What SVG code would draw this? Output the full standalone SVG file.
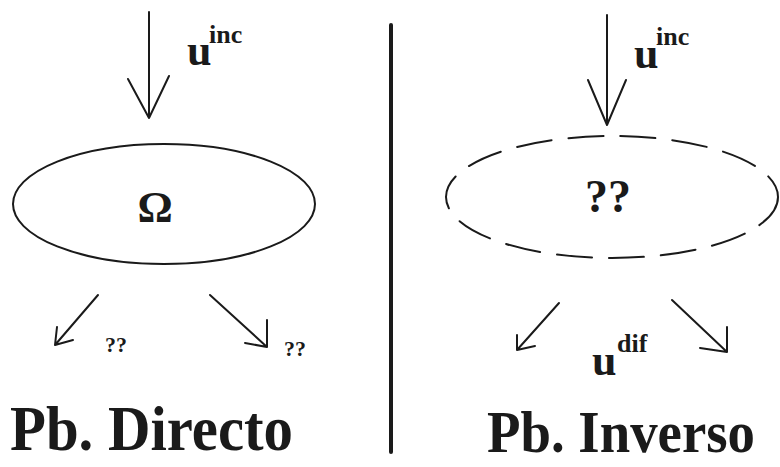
<svg xmlns="http://www.w3.org/2000/svg" width="780" height="467" viewBox="0 0 780 467">
<style>
.ln{fill:none;stroke:#1a1a1a;stroke-width:2;stroke-linecap:round;stroke-linejoin:round}
.t{font-family:"Liberation Serif","DejaVu Serif","Times New Roman",serif;font-weight:bold;fill:#1a1a1a}
</style>
<rect width="780" height="467" fill="#ffffff"/>
<g id="direct-omega">
<ellipse class="ln" cx="164" cy="204" rx="151" ry="60"/>
<text class="t" x="155" y="222" font-size="44" text-anchor="middle">Ω</text>
</g>
<g id="inverse-unknown">
<ellipse class="ln" cx="612" cy="197" rx="166" ry="61" stroke-dasharray="35 17"/>
<text class="t" x="608" y="212" font-size="46" text-anchor="middle">??</text>
</g>
<g id="connectors">
<path class="ln" d="M149 12 V118 M128 79 L149 118 L169 76"/>
<path class="ln" d="M607 15 V125 M588 80 L607 125 L626 80"/>
<path class="ln" d="M98 295 L55 345 M57 327 L55 345 L73 340"/>
<path class="ln" d="M210 295 L267 347 M267 320 L267 347 L245 343"/>
<path class="ln" d="M559 303 L517 350 M517 335 L517 350 L535 346"/>
<path class="ln" d="M672 300 L727 352 M727 327 L727 352 L700 348"/>
</g>
<g id="labels">
<text class="t" x="187" y="65" font-size="44">u</text>
<text class="t" x="209" y="43" font-size="26">inc</text>
<text class="t" x="634" y="68" font-size="44">u</text>
<text class="t" x="656" y="45" font-size="26">inc</text>
<text class="t" x="105" y="352" font-size="22">??</text>
<text class="t" x="284" y="356" font-size="22">??</text>
<text class="t" x="592" y="375" font-size="44">u</text>
<text class="t" x="617" y="352" font-size="26">dif</text>
<text class="t" x="10" y="450" font-size="64" textLength="283" lengthAdjust="spacingAndGlyphs">Pb. Directo</text>
<text class="t" x="487" y="452" font-size="60" textLength="268" lengthAdjust="spacingAndGlyphs">Pb. Inverso</text>
</g>
<line id="separator" x1="391" y1="25" x2="391" y2="452" stroke="#1a1a1a" stroke-width="4" stroke-linecap="round"/>
</svg>
